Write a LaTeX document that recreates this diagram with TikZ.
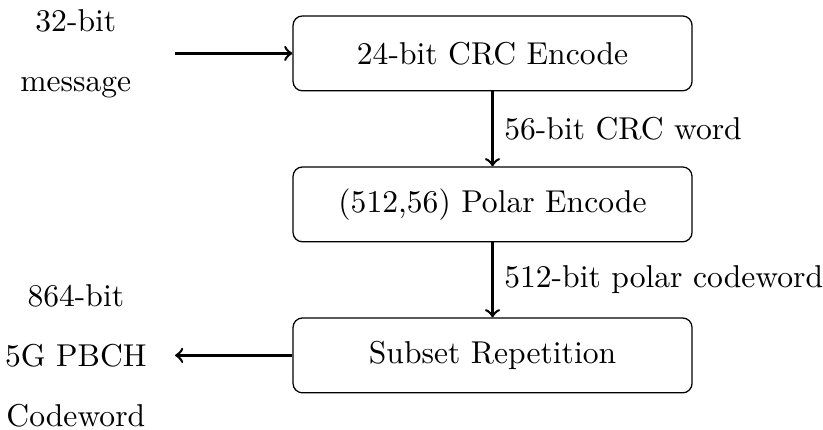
\documentclass[tikz,border=0pt]{standalone}
\usepackage{tikz}
\usetikzlibrary{arrows}
\begin{document}
\begin{tikzpicture}[x=1pt,y=1pt,
block/.style={draw,rounded corners=3pt,minimum width=126.3pt,minimum height=23.7pt},
flow/.style={->,thick}]
\useasboundingbox (0,0) rectangle (260.5,-135.8);
\node[block] (crc) at (155.9,-16.9) {24-bit CRC Encode};
\node[block] (polar) at (155.9,-64.7) {(512,56) Polar Encode};
\node[block] (rep) at (155.9,-112.5) {Subset Repetition};
\node[align=center] (msg) at (24,-17) {32-bit\\[7pt]message};
\node[align=center] (cw) at (24,-112.5) {864-bit\\[7pt]5G PBCH\\[7pt]Codeword};
\coordinate (in) at (55.4,-16.9);
\coordinate (out) at (55.4,-112.5);
\draw[flow] (in) -- (crc);
\draw[flow] (crc) -- node[right] {56-bit CRC word} (polar);
\draw[flow] (polar) -- node[right] {512-bit polar codeword} (rep);
\draw[flow] (rep) -- (out);
\end{tikzpicture}
\end{document}
